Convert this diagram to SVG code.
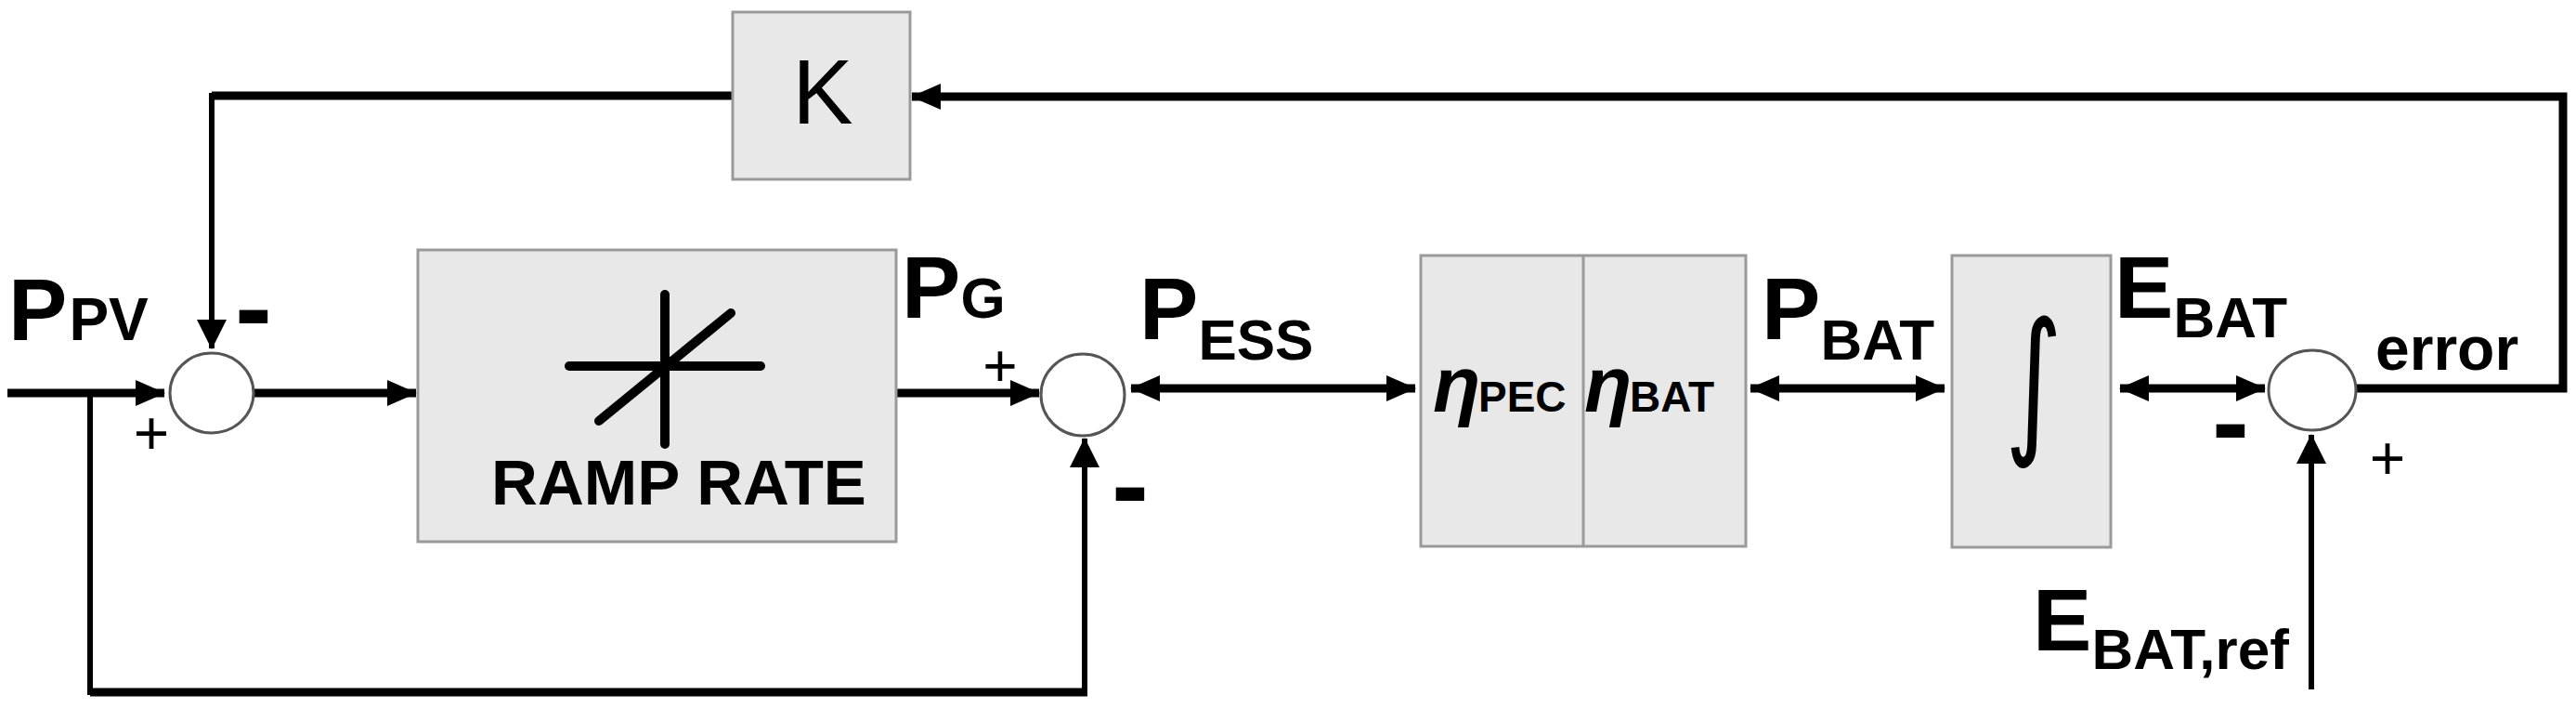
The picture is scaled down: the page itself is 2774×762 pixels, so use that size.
<svg xmlns="http://www.w3.org/2000/svg" width="2774" height="762" viewBox="0 0 2774 762">
<style>
.box{fill:#e8e8e8;stroke:#9a9a9a;stroke-width:3}
.sum{fill:#ffffff;stroke:#555555;stroke-width:3}
.w{fill:none;stroke:#000;stroke-width:9}
.t{fill:none;stroke:#000;stroke-width:6}
.lb{font-family:"Liberation Sans",Arial,sans-serif;font-weight:bold;fill:#000}
.sg{font-family:"Liberation Sans",Arial,sans-serif;fill:#000}
.sym{fill:none;stroke:#000;stroke-width:10;stroke-linecap:round}
</style>
<defs>
<marker id="ah" markerUnits="userSpaceOnUse" markerWidth="32" markerHeight="30" refX="31" refY="15" orient="auto-start-reverse">
<path d="M0,1 L32,15 L0,29 z" fill="#000"/>
</marker>
<marker id="av" markerUnits="userSpaceOnUse" markerWidth="32" markerHeight="32" refX="31" refY="16" orient="auto">
<path d="M0,0 L32,16 L0,32 z" fill="#000"/>
</marker>
</defs>
<rect width="2774" height="762" fill="#fff"/>
<g id="connectors">
<line class="w" x1="8" y1="423" x2="177" y2="423" marker-end="url(#ah)"/>
<polyline class="t" points="97,423 97,745 1168,745 1168,472" marker-end="url(#av)"/>
<line class="w" x1="97" y1="745" x2="1171" y2="745"/>
<line class="w" x1="273" y1="423" x2="448" y2="423" marker-end="url(#ah)"/>
<line class="w" x1="965" y1="423" x2="1119" y2="423" marker-end="url(#ah)"/>
<line class="w" x1="1218" y1="418" x2="1524" y2="418" marker-start="url(#ah)" marker-end="url(#ah)"/>
<line class="w" x1="1885" y1="418" x2="2094" y2="418" marker-start="url(#ah)" marker-end="url(#ah)"/>
<line class="w" x1="2283" y1="418" x2="2439" y2="418" marker-start="url(#ah)" marker-end="url(#ah)"/>
<polyline class="w" points="2537,418 2760,418 2760,104 982,104" marker-end="url(#ah)"/>
<line class="w" x1="789" y1="103" x2="228" y2="103"/>
<line class="t" x1="228" y1="100" x2="228" y2="375" marker-end="url(#av)"/>
<line class="t" x1="2489" y1="742" x2="2489" y2="468" marker-end="url(#av)"/>
</g>
<g id="node-k">
<rect class="box" x="789" y="13" width="191" height="180"/>
<text class="sg" x="886" y="133" font-size="98" text-anchor="middle">K</text>
</g>
<g id="node-sum1">
<ellipse class="sum" cx="228" cy="423" rx="45" ry="43"/>
<text class="lb" x="273" y="372" font-size="120" text-anchor="middle">-</text>
<text class="sg" x="163" y="489" font-size="66" text-anchor="middle">+</text>
</g>
<g id="node-ramp">
<rect class="box" x="450" y="269" width="515" height="314"/>
<line class="sym" x1="716" y1="317" x2="716" y2="478"/>
<line class="sym" x1="613" y1="394" x2="819" y2="394"/>
<line class="sym" x1="645" y1="453" x2="787" y2="337"/>
<text class="lb" x="731" y="543" font-size="69" text-anchor="middle">RAMP RATE</text>
</g>
<g id="node-sum2">
<ellipse class="sum" cx="1166" cy="425" rx="45" ry="44"/>
<text class="sg" x="1077" y="416" font-size="64" text-anchor="middle">+</text>
<text class="lb" x="1217" y="563" font-size="120" text-anchor="middle">-</text>
</g>
<g id="node-eta">
<rect class="box" x="1530" y="275" width="350" height="313"/>
<line x1="1705" y1="275" x2="1705" y2="588" stroke="#9a9a9a" stroke-width="3"/>
<text class="lb" x="1543" y="443" font-size="84" font-style="italic">η</text>
<text class="lb" x="1592" y="443" font-size="46">PEC</text>
<text class="lb" x="1706" y="443" font-size="84" font-style="italic">η</text>
<text class="lb" x="1755" y="443" font-size="46">BAT</text>
</g>
<g id="node-int">
<rect class="box" x="2102" y="275" width="171" height="314"/>
<text transform="translate(2190,468) scale(0.7,1)" x="0" y="0" font-family="'DejaVu Sans',sans-serif" font-size="170" text-anchor="middle" fill="#000">∫</text>
</g>
<g id="node-sum3">
<ellipse class="sum" cx="2490" cy="420" rx="47" ry="43"/>
<text class="lb" x="2402" y="495" font-size="120" text-anchor="middle">-</text>
<text class="sg" x="2571" y="516" font-size="66" text-anchor="middle">+</text>
</g>
<g id="labels">
<text class="lb" x="9" y="366" font-size="95">P<tspan font-size="64" dx="2">PV</tspan></text>
<text class="lb" x="971" y="342" font-size="95">P<tspan font-size="62" dx="0">G</tspan></text>
<text class="lb" x="1227" y="365" font-size="95">P<tspan font-size="62" dy="22">ESS</tspan></text>
<text class="lb" x="1897" y="365" font-size="95">P<tspan font-size="62" dy="22">BAT</tspan></text>
<text class="lb" x="2277" y="342" font-size="95">E<tspan font-size="62" dy="21">BAT</tspan></text>
<text class="lb" x="2189" y="700" font-size="95">E<tspan font-size="62" dy="20">BAT,ref</tspan></text>
<text class="lb" x="2558" y="398" font-size="66">error</text>
</g>
</svg>
